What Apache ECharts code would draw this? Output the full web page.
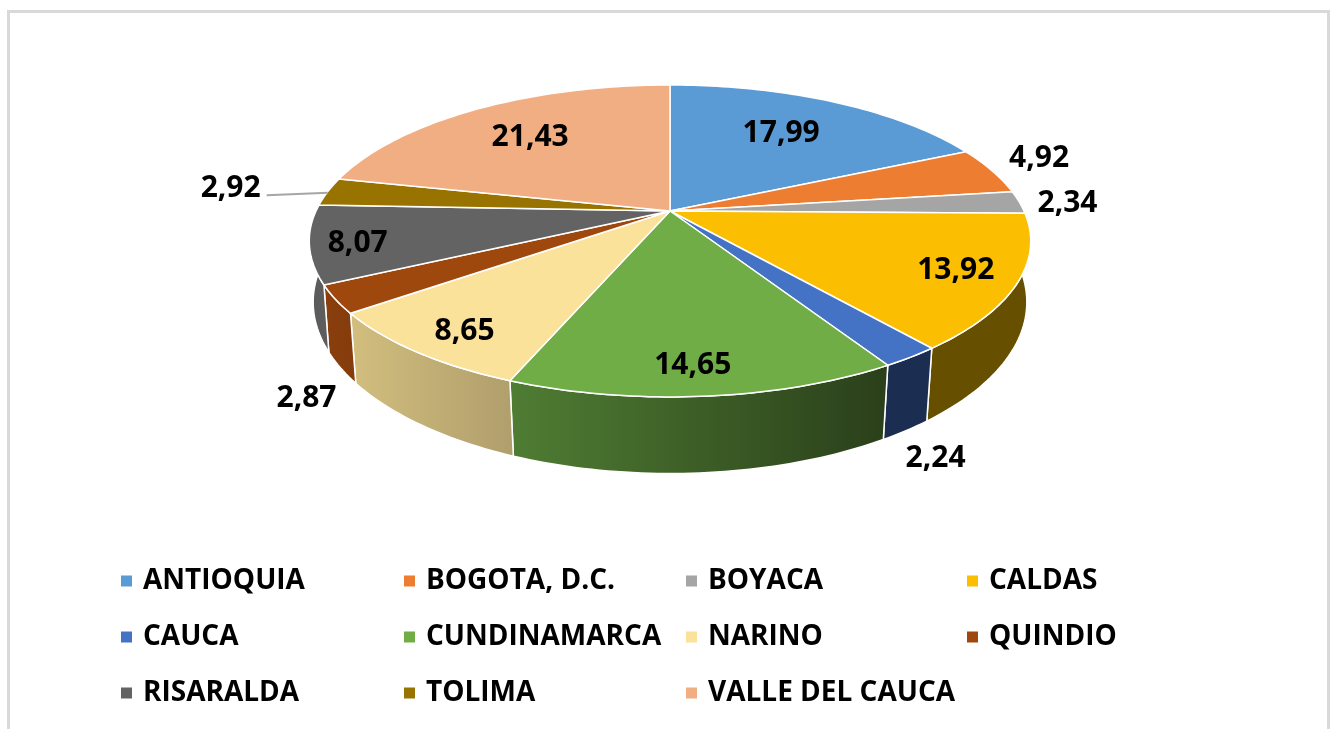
<!DOCTYPE html>
<html>
<head>
<meta charset="utf-8">
<style>
  html, body { margin: 0; padding: 0; background: #fff; }
  #chart { width: 1335px; height: 729px; }
</style>
<script src="https://cdn.jsdelivr.net/npm/echarts@6/dist/echarts.min.js"></script>
</head>
<body>
<div id="chart"></div>
<script>
const categories = ["ANTIOQUIA", "BOGOTA, D.C.", "BOYACA", "CALDAS", "CAUCA", "CUNDINAMARCA", "NARINO", "QUINDIO", "RISARALDA", "TOLIMA", "VALLE DEL CAUCA"];
const values = [17.99, 4.92, 2.34, 13.92, 2.24, 14.65, 8.65, 2.87, 8.07, 2.92, 21.43];
const topColors = ["#5B9BD5", "#ED7D31", "#A5A5A5", "#FBBE00", "#4472C4", "#70AD47", "#FBE29A", "#9E480E", "#636363", "#997300", "#F1AE82"];
const wallLeft = ["#5B9BD5", "#ED7D31", "#A5A5A5", "#665000", "#1B2D50", "#4F7D33", "#D2BE7E", "#8A3F0C", "#5A5A5A", "#997300", "#F1AE82"];
const wallRight = ["#5B9BD5", "#ED7D31", "#A5A5A5", "#665000", "#1B2D50", "#2A3F1A", "#B09E6C", "#843C0C", "#5E5E5E", "#997300", "#F1AE82"];
const legendColumns = [
  ["ANTIOQUIA", "CAUCA", "RISARALDA"],
  ["BOGOTA, D.C.", "CUNDINAMARCA", "TOLIMA"],
  ["BOYACA", "NARINO", "VALLE DEL CAUCA"],
  ["CALDAS", "QUINDIO"]
];
const legendLeft = [116, 399, 681, 962];

// perspective of the two faces: the pie centre sits above the ellipse centre
const topFace = { cy: 211, a: 354, b: 150.2, k: 0.192 };
const lowFace = { cy: 271.2, a: 351, b: 165.9, k: 0.18 };
const cx = 670;
const fontFamily = '"Open Sans", sans-serif';

// label placement, pixel shift from the point at 0.7 radius on the slice mid angle
const labelShift = [[-8, 2], [140, -24], [152, -2], [49, 11], [106, 151], [0, 33], [-37, 27], [-137, 128], [-63, 10], [-198, -9], [0, 1]];

const total = values.reduce((s, v) => s + v, 0);
const starts = [];
values.reduce((s, v, i) => { starts[i] = s; return s + v; }, 0);

function project(face, theta, r) {
  const u = r * Math.sin(theta), v = r * Math.cos(theta), w = 1 + face.k * v;
  return [cx + face.a * u / w, face.cy - face.b * v / w];
}
function arc(face, i) {
  const t0 = starts[i] / total * Math.PI * 2;
  const t1 = (starts[i] + values[i]) / total * Math.PI * 2;
  const n = Math.max(2, Math.ceil((t1 - t0) / 0.02));
  const pts = [];
  for (let j = 0; j <= n; j++) pts.push(project(face, t0 + (t1 - t0) * j / n, 1));
  return pts;
}

const wallSeries = {
  type: "custom",
  name: "walls",
  coordinateSystem: "none",
  silent: true,
  z: 1,
  data: values.map(v => [v]),
  renderItem(params) {
    const i = params.dataIndex;
    return {
      type: "polygon",
      shape: { points: arc(topFace, i).concat(arc(lowFace, i).reverse()) },
      style: {
        fill: new echarts.graphic.LinearGradient(0, 0, 1, 0, [
          { offset: 0, color: wallLeft[i] },
          { offset: 1, color: wallRight[i] }
        ]),
        stroke: "#fff",
        lineWidth: 1.5
      }
    };
  }
};

const topSeries = categories.map((name, i) => ({
  type: "custom",
  name: name,
  coordinateSystem: "none",
  silent: true,
  z: 2,
  itemStyle: { color: topColors[i] },
  data: [[values[i]]],
  renderItem() {
    return {
      type: "polygon",
      shape: { points: [[cx, topFace.cy]].concat(arc(topFace, i)) },
      style: { fill: topColors[i], stroke: "#fff", lineWidth: 1.5 }
    };
  }
}));

const labelSeries = {
  type: "custom",
  name: "labels",
  coordinateSystem: "none",
  silent: true,
  z: 3,
  data: values.map(v => [v]),
  renderItem(params, api) {
    const i = params.dataIndex;
    const mid = (starts[i] + values[i] / 2) / total * Math.PI * 2;
    const p = project(topFace, mid, 0.7);
    const x = p[0] + labelShift[i][0], y = p[1] + labelShift[i][1];
    const children = [{
      type: "text",
      x: x,
      y: y,
      style: {
        text: api.value(0).toFixed(2).replace(".", ","),
        fill: "#000",
        font: "bold 30px " + fontFamily,
        align: "center",
        verticalAlign: "middle"
      }
    }];
    // only the TOLIMA label has a leader line
    if (i === 9) {
      const e = project(topFace, mid, 1);
      children.push({
        type: "line",
        shape: { x1: x + 36, y1: y + 7, x2: e[0], y2: e[1] + 1 },
        style: { stroke: "#A6A6A6", lineWidth: 2 }
      });
    }
    return { type: "group", children: children };
  }
};

const chart = echarts.init(document.getElementById("chart"));
chart.setOption({
  backgroundColor: "#fff",
  animation: false,
  graphic: [{
    type: "rect",
    shape: { x: 8.5, y: 11.5, width: 1320, height: 740 },
    style: { fill: "none", stroke: "#D9D9D9", lineWidth: 3 },
    silent: true
  }],
  legend: legendColumns.map((names, c) => ({
    data: names,
    orient: "vertical",
    left: legendLeft[c],
    top: 558,
    icon: "rect",
    itemWidth: 11,
    itemHeight: 11,
    itemGap: 20,
    selectedMode: false,
    textStyle: { color: "#000", fontFamily: fontFamily, fontWeight: "bold", fontSize: 28, lineHeight: 36, padding: [0, 0, 0, 6] }
  })),
  series: [wallSeries].concat(topSeries, [labelSeries])
});
</script>
</body>
</html>
